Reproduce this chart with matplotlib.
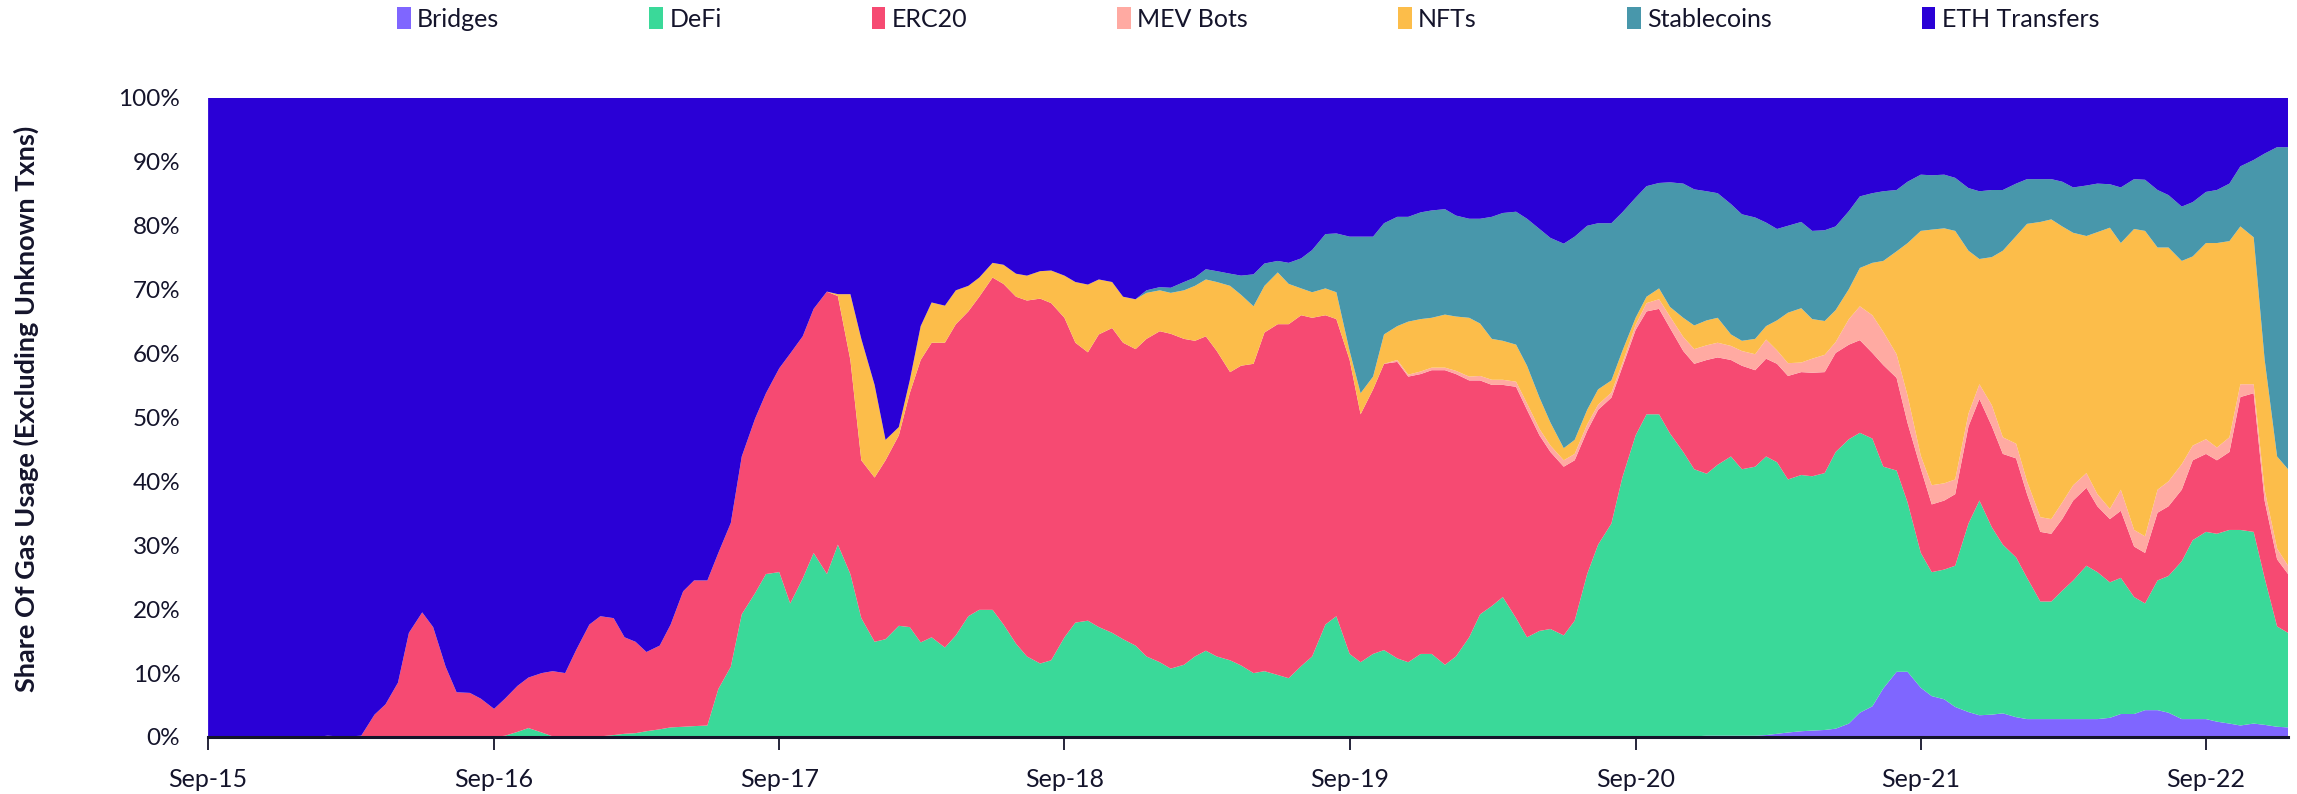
import pandas as pd
import matplotlib.pyplot as plt
import matplotlib.dates as mdates
from matplotlib.ticker import FixedLocator, FuncFormatter

plt.rcParams['font.family'] = ['Lato', 'DejaVu Sans']

# half-monthly samples, Sep 2015 .. Dec 2022 (share of gas, %)
# each row of numbers below covers one Sep..Aug year
dates = pd.date_range("2015-09-01", periods=176, freq="SMS")

bridges = [0] * 120 + [
    0.1, 0.1, 0.1, 0.1, 0.1, 0.1, 0.2, 0.2, 0.2, 0.2, 0.2, 0.3, 0.5, 0.7, 0.9, 1.0, 1.1, 1.3, 2.1, 3.8, 4.8, 7.6, 10.2, 10.2,
    7.7, 6.4, 5.9, 4.7, 3.9, 3.4, 3.5, 3.7, 3.1, 2.8, 2.8, 2.8, 2.8, 2.8, 2.8, 2.8, 3.0, 3.6, 3.6, 4.2, 4.2, 3.8, 2.8, 2.8,
    2.8, 2.4, 2.1, 1.8, 2.1, 1.9, 1.6, 1.5,
]
defi = [0] * 24 + [
    0, 0.2, 0.8, 1.4, 0.7, 0.1, 0, 0, 0, 0.1, 0.3, 0.5, 0.6, 0.9, 1.2, 1.5, 1.6, 1.7, 1.8, 7.5, 11.0, 19.2, 22.5, 25.5,
    25.8, 20.9, 24.8, 28.8, 25.5, 30.1, 25.5, 18.6, 14.9, 15.3, 17.4, 17.2, 14.8, 15.6, 14.0, 15.9, 18.9, 19.9, 19.9, 17.6, 14.6, 12.6, 11.5, 12.0,
    15.6, 17.9, 18.2, 17.2, 16.3, 15.3, 14.3, 12.6, 11.7, 10.7, 11.3, 12.6, 13.5, 12.6, 12.0, 11.2, 10.0, 10.3, 9.7, 9.2, 11.1, 12.6, 17.6, 18.9,
    13.0, 11.7, 13.0, 13.6, 12.3, 11.7, 13.0, 13.0, 11.3, 12.6, 15.6, 19.2, 20.5, 21.9, 18.6, 15.6, 16.6, 16.9, 15.9, 18.2, 25.5, 30.1, 33.4, 40.6,
    47.1, 50.4, 50.4, 47.4, 44.5, 41.8, 41.0, 42.4, 43.7, 41.7, 42.1, 43.6, 42.5, 39.6, 40.1, 39.8, 40.2, 43.3, 44.5, 43.8, 41.9, 34.7, 31.5, 26.5,
    21.1, 19.4, 20.3, 22.1, 29.5, 33.6, 29.3, 26.4, 25.0, 22.1, 18.4, 18.4, 20.1, 21.7, 24.0, 23.0, 21.2, 21.3, 18.3, 16.7, 20.3, 21.4, 24.7, 28.0,
    29.3, 29.4, 30.3, 30.6, 30.0, 23.0, 15.7, 14.8,
]
erc20 = [
    0, 0, 0, 0, 0, 0, 0, 0, 0, 0, 0.2, 0.1, 0.1, 0.2, 3.5, 5.1, 8.5, 16.3, 19.5, 17.2, 11.0, 7.0, 6.9, 6.0,
    4.4, 5.8, 7.2, 7.9, 9.3, 10.2, 10.0, 13.6, 17.6, 18.8, 18.3, 15.1, 14.3, 12.4, 13.1, 16.1, 21.2, 22.8, 22.7, 21.3, 22.5, 24.7, 27.3, 28.3,
    31.9, 39.1, 37.9, 38.2, 44.2, 38.9, 33.5, 24.7, 25.7, 28.0, 29.8, 36.6, 44.2, 46.1, 47.7, 48.7, 47.7, 49.0, 52.0, 53.3, 54.3, 55.7, 57.1, 55.9,
    50.0, 43.8, 42.0, 45.8, 47.7, 46.4, 46.4, 49.7, 51.8, 52.4, 51.0, 49.4, 49.2, 47.8, 45.1, 46.9, 48.4, 53.0, 54.9, 55.4, 54.9, 53.0, 48.4, 46.5,
    46.0, 38.8, 41.4, 44.8, 46.4, 44.7, 43.8, 44.4, 46.1, 44.2, 40.2, 36.6, 34.6, 33.2, 36.2, 35.6, 30.6, 27.7, 26.4, 25.1, 22.4, 21.1, 19.7, 17.3,
    16.5, 16.1, 16.5, 16.5, 15.8, 16.5, 17.8, 16.8, 15.1, 16.2, 15.1, 15.3, 15.4, 16.2, 16.1, 16.2, 15.8, 15.5, 14.8, 14.5, 13.4, 15.9, 14.5, 12.4,
    13.2, 10.6, 10.8, 11.2, 15.2, 15.9, 15.8, 14.2, 15.5, 13.1, 10.9, 10.6, 11.2, 12.5, 12.2, 10.3, 9.9, 10.5, 7.9, 7.9, 10.6, 10.9, 11.2, 12.5,
    12.2, 11.5, 12.2, 20.8, 21.7, 12.1, 10.5, 9.2,
]
mev_bots = [0] * 96 + [
    0, 0, 0, 0, 0.3, 0.3, 0.4, 0.4, 0.4, 0.5, 0.6, 0.7, 0.8, 0.8, 0.8, 1.0, 1.0, 1.0, 1.0, 1.0, 1.0, 0.8, 0.8, 0.6,
    0.8, 1.3, 1.5, 1.8, 2.2, 2.3, 2.3, 2.3, 2.2, 2.3, 2.5, 3.0, 2.1, 2.0, 1.5, 2.2, 2.7, 1.7, 4.0, 5.3, 5.9, 5.2, 3.7, 4.3,
    2.0, 3.0, 2.7, 2.3, 2.0, 2.3, 3.3, 2.6, 2.3, 2.0, 2.3, 2.3, 2.6, 2.4, 2.3, 1.9, 1.6, 3.3, 2.6, 2.6, 3.6, 3.9, 4.0, 2.3,
    2.3, 2.0, 2.3, 2.0, 1.4, 1.7, 1.7, 1.3,
]
nfts = [0] * 48 + [
    0, 0, 0, 0, 0, 0.3, 10.3, 19.0, 14.5, 3.2, 1.3, 2.0, 5.3, 6.3, 5.8, 5.3, 4.0, 3.0, 2.3, 3.0, 3.6, 3.9, 4.3, 5.1,
    6.6, 9.5, 10.6, 8.6, 7.2, 7.2, 7.8, 7.2, 6.4, 6.4, 7.6, 8.6, 8.9, 10.8, 13.5, 11.1, 9.0, 7.3, 8.1, 6.3, 4.2, 4.0, 4.2, 4.2,
    1.4, 3.3, 2.0, 4.6, 5.3, 8.3, 8.2, 7.8, 8.3, 8.5, 9.2, 8.2, 6.4, 6.1, 5.8, 5.9, 4.9, 3.6, 1.9, 2.2, 2.3, 2.4, 1.9, 1.9,
    1.1, 1.0, 1.7, 1.5, 3.0, 3.7, 3.9, 3.9, 1.8, 1.6, 2.4, 2.1, 4.7, 7.9, 8.5, 6.2, 5.3, 5.0, 4.7, 6.0, 8.2, 11.1, 16.1, 23.8,
    35.2, 40.0, 39.9, 38.9, 25.5, 19.6, 23.2, 29.2, 32.5, 40.3, 46.2, 46.9, 43.2, 39.5, 37.1, 41.0, 44.0, 38.6, 47.1, 47.8, 37.9, 36.6, 31.8, 29.6,
    30.7, 32.0, 30.7, 24.7, 23.0, 20.4, 14.4, 15.1,
]
stablecoins = [0] * 72 + [
    0, 0, 0, 0, 0, 0, 0, 0.4, 0.5, 0.8, 1.3, 1.3, 1.6, 1.7, 1.9, 3.0, 5.0, 3.5, 1.8, 3.3, 4.7, 6.6, 8.5, 9.2,
    17.9, 24.5, 21.9, 17.4, 17.1, 16.4, 16.7, 16.8, 16.5, 15.8, 15.5, 16.4, 19.1, 20.0, 20.8, 23.0, 26.4, 28.9, 32.0, 31.8, 28.8, 26.0, 24.6, 21.7,
    18.8, 17.3, 16.5, 19.5, 21.0, 21.3, 20.2, 19.5, 20.4, 19.8, 19.0, 16.2, 14.3, 13.6, 13.5, 13.8, 14.2, 13.1, 12.2, 11.2, 10.9, 10.9, 9.6, 9.6,
    8.8, 8.5, 8.4, 8.3, 9.8, 10.6, 10.5, 9.5, 8.2, 7.0, 6.7, 6.3, 7.0, 7.1, 7.9, 7.6, 6.8, 8.7, 7.8, 8.0, 9.0, 8.2, 8.5, 8.5,
    8.0, 8.3, 9.0, 9.4, 12.1, 32.2, 48.4, 50.4,
]
eth_transfers = [
    100, 100, 100, 100, 100, 100, 100, 100, 100, 100, 99.8, 99.9, 99.9, 99.8, 96.5, 94.9, 91.5, 83.7, 80.5, 82.8, 89.0, 93.0, 93.1, 94.0,
    95.6, 94.0, 92.0, 90.7, 90.0, 89.7, 90.0, 86.4, 82.4, 81.1, 81.4, 84.4, 85.1, 86.7, 85.7, 82.4, 77.2, 75.5, 75.5, 71.2, 66.5, 56.1, 50.2, 46.2,
    42.3, 40.0, 37.3, 33.0, 30.3, 30.7, 30.7, 37.7, 44.9, 53.5, 51.5, 44.2, 35.7, 32.0, 32.5, 30.1, 29.4, 28.1, 25.8, 26.1, 27.5, 27.8, 27.1, 27.0,
    27.8, 28.8, 29.2, 28.4, 28.8, 31.1, 31.5, 30.1, 29.6, 29.7, 28.8, 28.1, 26.8, 27.1, 27.5, 27.8, 27.6, 25.9, 25.5, 25.8, 25.1, 23.8, 21.3, 21.2,
    21.7, 21.7, 21.7, 19.6, 18.6, 18.6, 17.9, 17.6, 17.4, 18.4, 18.9, 18.9, 18.6, 18.0, 17.8, 18.9, 20.5, 21.9, 22.8, 21.7, 20.0, 19.6, 19.6, 17.9,
    15.6, 13.8, 13.3, 13.2, 13.4, 14.3, 14.6, 14.9, 16.6, 18.2, 18.7, 19.5, 20.5, 20.0, 19.4, 20.8, 20.7, 20.1, 17.7, 15.4, 14.9, 14.6, 14.4, 13.1,
    12.0, 12.1, 12.0, 12.5, 14.1, 14.6, 14.4, 14.4, 13.4, 12.7, 12.7, 12.7, 13.1, 14.0, 13.7, 13.4, 13.5, 14.0, 12.7, 12.8, 14.4, 15.2, 17.0, 16.3,
    14.7, 14.4, 13.4, 10.7, 9.7, 8.7, 7.7, 7.7,
]

labels = ["Bridges", "DeFi", "ERC20", "MEV Bots", "NFTs", "Stablecoins", "ETH Transfers"]
colors = ["#7f66ff", "#3ad999", "#f64a72", "#ffaaa2", "#fcbd4a", "#4897ab", "#2a00d6"]

df = pd.DataFrame({
    "Bridges": bridges, "DeFi": defi, "ERC20": erc20, "MEV Bots": mev_bots,
    "NFTs": nfts, "Stablecoins": stablecoins, "ETH Transfers": eth_transfers,
}, index=dates)
shares = df.div(df.sum(axis=1), axis=0)

fig = plt.figure(figsize=(22.97, 7.94), dpi=100)
ax = fig.add_axes([0.0906, 0.0718, 0.9055, 0.8048])

ax.stackplot(shares.index, [shares[c] for c in labels], labels=labels,
             colors=colors, linewidth=0)

ax.set_xlim(shares.index[0], shares.index[-1])
ax.set_ylim(0, 1)

text_color = "#14142b"
ax.yaxis.set_major_locator(FixedLocator([i / 10 for i in range(11)]))
ax.yaxis.set_major_formatter(FuncFormatter(lambda v, _: f"{v * 100:.0f}%"))
ax.xaxis.set_major_locator(mdates.MonthLocator(bymonth=9, bymonthday=1))
ax.xaxis.set_major_formatter(mdates.DateFormatter("%b-%y"))

ax.tick_params(axis="y", length=0, pad=20, labelsize=17.5, colors=text_color)
ax.tick_params(axis="x", length=9, width=1.3, pad=13, labelsize=18,
               colors=text_color, direction="out")

for side in ("top", "right", "left"):
    ax.spines[side].set_visible(False)
ax.spines["bottom"].set_color(text_color)
ax.spines["bottom"].set_linewidth(2.2)

fig.text(0.0115, 0.485, "Share Of Gas Usage (Excluding Unknown Txns)", rotation=90,
         ha="center", va="center", fontsize=19.5, fontweight="bold", color=text_color)

ax.legend(loc="lower center", bbox_to_anchor=(0.5, 1.07), ncol=7, frameon=False,
          fontsize=18, handlelength=0.55, handleheight=0.95, handletextpad=0.25,
          columnspacing=6.0, labelcolor=text_color)

fig.savefig("out.png", dpi=100)
